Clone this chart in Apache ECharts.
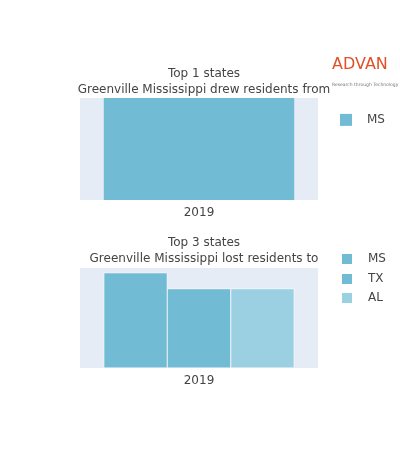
<!DOCTYPE html><html><head><script src="https://cdn.jsdelivr.net/npm/echarts@6/dist/echarts.min.js"></script></head><body style="margin:0;background:#fff"><div id="c" style="width:400px;height:450px"></div><script>
const categories=['2019'];
const fromStates=['MS'];const fromValues=[1];
const toStates=['MS','TX','AL'];const toValues=[6,5,5];
const colorsFrom=['#72bbd4'];const colorsTo=['#72bbd4','#72bbd4','#9bd0e3'];
const font='"DejaVu Sans", Verdana, sans-serif';
const series=[];
fromStates.forEach((s,i)=>series.push({name:s,type:'bar',xAxisIndex:0,yAxisIndex:0,data:[fromValues[i]],itemStyle:{color:colorsFrom[i]},barGap:'0%',barCategoryGap:'20%'}));
toStates.forEach((s,i)=>series.push({name:s+' ',type:'bar',xAxisIndex:1,yAxisIndex:1,data:[toValues[i]],itemStyle:{color:colorsTo[i],borderColor:'#fff',borderWidth:0.5},barGap:'0%',barCategoryGap:'20%'}));
const chart=echarts.init(document.getElementById('c'));
const lt={fontSize:12,color:'#444',lineHeight:14,padding:[0,0,0,10],fontFamily:font};
const legends=[{data:fromStates,left:340,top:108,padding:0,itemWidth:12,itemHeight:12,textStyle:lt,icon:'rect'}];
const tops=[247,267,286];
toStates.forEach((s,i)=>legends.push({data:[s+' '],left:340,top:tops[i],padding:0,itemWidth:12,itemHeight:12,textStyle:lt,icon:'rect'}));
chart.setOption({animation:false,textStyle:{fontFamily:font},
title:[{text:'Top 1 states\nGreenville Mississippi drew residents from',left:199,top:61,textAlign:'center',textStyle:{fontSize:12,fontWeight:'normal',color:'#444',lineHeight:16,fontFamily:font}},
{text:'Top 3 states\nGreenville Mississippi lost residents to',left:199,top:230,textAlign:'center',textStyle:{fontSize:12,fontWeight:'normal',color:'#444',lineHeight:16,fontFamily:font}},
{text:'ADVAN',subtext:'Research through Technology',left:327,top:44,itemGap:0,textStyle:{fontSize:16,color:'#e2502a',fontWeight:'normal',fontFamily:font},subtextStyle:{fontSize:4.5,color:'#777'}}],
legend:legends,
grid:[{left:80,width:238,top:98,height:102,backgroundColor:'#e5ecf6',show:true,borderWidth:0},{left:80,width:238,top:268,height:100,backgroundColor:'#e5ecf6',show:true,borderWidth:0}],
xAxis:[0,1].map(i=>({type:'category',gridIndex:i,data:categories,axisLine:{show:false},axisTick:{show:false},axisLabel:{fontSize:12,color:'#444',margin:1}})),
yAxis:[{gridIndex:0,min:0,max:1.0,show:false},{gridIndex:1,min:0,max:6.3,show:false}],
series});
</script></body></html>
